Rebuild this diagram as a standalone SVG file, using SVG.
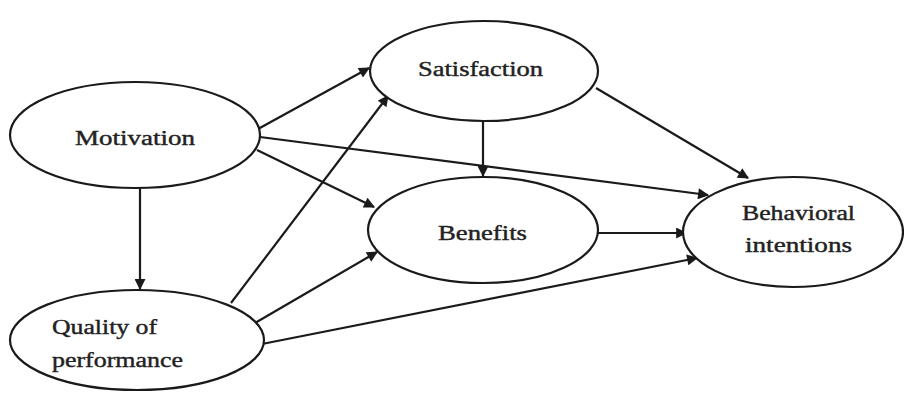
<svg xmlns="http://www.w3.org/2000/svg" width="904" height="394" viewBox="0 0 904 394">
<style>
.n ellipse{fill:#fff;stroke:#1a1a1a;stroke-width:2.2}
.n text{font-family:"Liberation Serif","Times New Roman",serif;font-size:20px;fill:#222;stroke:#222;stroke-width:0.4}
.c line{stroke:#1a1a1a;stroke-width:2.2;marker-end:url(#ah)}
</style>
<defs>
<marker id="ah" viewBox="0 0 10 10" refX="9" refY="5" markerWidth="5.5" markerHeight="5" orient="auto" markerUnits="strokeWidth">
<path d="M0,0 L10,5 L0,10 z" fill="#1a1a1a"/>
</marker>
</defs>
<rect width="904" height="394" fill="#fff"/>
<g class="c" id="connectors">
<line x1="258" y1="129" x2="369" y2="68"/>
<line x1="260" y1="137" x2="708" y2="195"/>
<line x1="257" y1="150" x2="374" y2="207"/>
<line x1="140" y1="188" x2="140" y2="289"/>
<line x1="231" y1="303" x2="388" y2="96"/>
<line x1="255" y1="323" x2="377" y2="252"/>
<line x1="262" y1="344" x2="697" y2="258"/>
<line x1="483" y1="120" x2="483" y2="176"/>
<line x1="596" y1="88" x2="748" y2="178"/>
<line x1="598" y1="233" x2="686" y2="233"/>
</g>
<g class="n" id="motivation">
<ellipse cx="135" cy="135" rx="125" ry="53"/>
<text x="75" y="145" textLength="120" lengthAdjust="spacingAndGlyphs">Motivation</text>
</g>
<g class="n" id="satisfaction">
<ellipse cx="484" cy="71" rx="114" ry="50"/>
<text x="418" y="76" textLength="125" lengthAdjust="spacingAndGlyphs">Satisfaction</text>
</g>
<g class="n" id="benefits">
<ellipse cx="483" cy="230" rx="115" ry="53"/>
<text x="438" y="240" textLength="89" lengthAdjust="spacingAndGlyphs">Benefits</text>
</g>
<g class="n" id="behavioral">
<ellipse cx="793" cy="232" rx="110" ry="55"/>
<text x="742" y="220" textLength="113" lengthAdjust="spacingAndGlyphs">Behavioral</text>
<text x="745" y="252" textLength="107" lengthAdjust="spacingAndGlyphs">intentions</text>
</g>
<g class="n" id="quality">
<ellipse cx="137" cy="340" rx="127" ry="50"/>
<text x="52" y="334" textLength="105" lengthAdjust="spacingAndGlyphs">Quality of</text>
<text x="52" y="367" textLength="131" lengthAdjust="spacingAndGlyphs">performance</text>
</g>
</svg>
